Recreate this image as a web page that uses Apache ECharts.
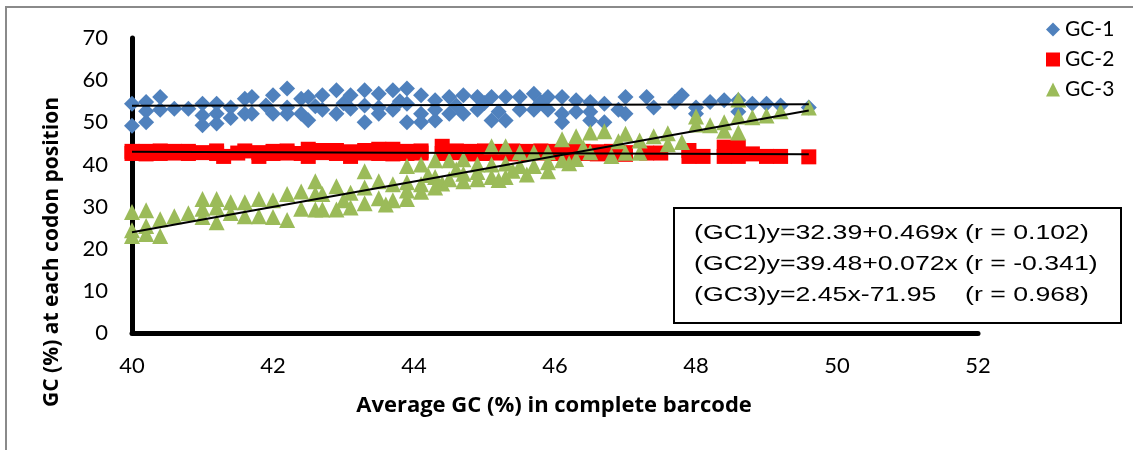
<!DOCTYPE html>
<html>
<head>
<meta charset="utf-8">
<script src="https://cdn.jsdelivr.net/npm/echarts@6/dist/echarts.min.js"></script>
<style>
html,body{margin:0;padding:0;background:#fff;}
#chart{width:1133px;height:450px;}
</style>
</head>
<body>
<div id="chart"></div>
<script>
// ---- data ----
const xTicks = [40, 42, 44, 46, 48, 50, 52];
const yTicks = [0, 10, 20, 30, 40, 50, 60, 70];
const seriesNames = ['GC-1', 'GC-2', 'GC-3'];

const gc1 = [
[40.0,54.4],[40.0,49.2],[40.2,54.8],[40.2,50.0],[40.2,52.6],[40.4,56.0],[40.4,53.0],[40.6,53.2],[40.8,53.2],
[41.0,54.4],[41.0,51.6],[41.0,49.3],[41.2,54.4],[41.2,52.0],[41.2,49.7],[41.4,53.5],[41.4,51.0],
[41.6,55.6],[41.6,52.0],[41.7,56.0],[41.7,52.0],[41.9,54.0],[42.0,56.4],[42.0,52.0],[42.2,58.0],[42.2,53.5],
[42.2,52.0],[42.4,55.6],[42.4,52.0],[42.5,56.0],[42.5,50.5],[42.6,53.8],[42.7,56.4],[42.7,53.0],[42.9,57.6],
[42.9,52.0],[43.0,54.5],[43.1,56.4],[43.1,53.2],[43.3,57.6],[43.3,50.0],[43.3,54.0],[43.5,56.8],[43.5,52.0],[43.5,53.5],
[43.7,57.6],[43.7,53.0],[43.8,55.0],[43.9,58.0],[43.9,54.4],[43.9,50.0],[44.1,56.4],[44.1,52.0],[44.1,50.0],
[44.3,55.2],[44.3,50.4],[44.3,53.0],[44.5,56.0],[44.5,52.0],[44.6,54.0],[44.7,56.4],[44.7,52.0],[44.9,56.0],[44.9,53.0],
[45.0,54.6],[45.1,56.0],[45.1,50.4],[45.2,52.5],[45.3,56.0],[45.3,50.4],[45.5,56.0],[45.5,53.0],[45.7,56.8],[45.7,53.0],
[45.8,54.8],[45.9,56.0],[45.9,53.0],[46.1,56.0],[46.1,52.0],[46.1,50.0],[46.3,55.2],[46.3,52.5],[46.5,54.8],
[46.5,50.4],[46.5,52.5],[46.7,54.4],[46.7,50.0],[46.9,53.0],[47.0,56.0],[47.0,52.0],[47.3,56.0],[47.4,53.5],
[47.7,54.8],[47.8,56.4],[48.0,53.5],[48.0,52.0],[48.2,54.8],[48.4,55.2],[48.6,55.2],[48.6,52.5],
[48.8,54.4],[49.0,54.4],[49.2,54.0],[49.6,53.5]
];

const gc2 = [
[40.0,42.6],[40.0,43.1],[40.2,42.5],[40.2,43.1],[40.4,42.6],[40.4,43.2],[40.6,42.7],[40.6,43.1],
[40.8,42.6],[40.8,43.1],[41.0,42.8],[41.2,42.6],[41.2,43.2],[41.3,41.9],[41.5,42.7],[41.6,43.2],
[41.8,41.9],[41.8,42.8],[42.0,42.6],[42.0,43.1],[42.2,42.7],[42.2,43.2],[42.4,42.6],[42.5,43.6],
[42.5,41.9],[42.7,42.8],[42.7,43.3],[42.9,42.6],[42.9,43.3],[43.1,41.9],[43.1,43.0],[43.3,42.7],
[43.3,43.3],[43.5,43.6],[43.5,42.6],[43.7,43.6],[43.7,42.5],[43.9,42.6],[43.9,43.1],[44.1,42.7],
[44.1,43.2],[44.4,44.3],[44.4,42.6],[44.6,42.8],[44.6,43.2],[44.8,42.5],[44.8,43.1],[45.0,42.6],
[45.0,43.2],[45.2,42.7],[45.2,43.1],[45.4,42.5],[45.4,43.2],[45.6,42.6],[45.6,43.1],[45.8,42.7],
[45.8,43.2],[46.0,42.6],[46.0,43.1],[46.2,42.5],[46.2,43.2],[46.4,42.6],[46.4,43.1],[46.6,42.5],
[46.6,43.0],[46.8,42.6],[46.8,43.1],[47.0,42.8],[47.0,42.4],[47.3,42.7],[47.5,42.7],[47.9,43.3],
[47.9,41.9],[48.1,41.9],[48.4,44.1],[48.4,41.9],[48.6,44.1],[48.6,41.9],[48.8,42.5],[49.0,41.9],
[49.2,41.9],[49.6,41.8]
];

const gc3 = [
[40.0,28.7],[40.0,24.4],[40.0,23.0],[40.2,29.1],[40.2,25.4],[40.2,23.5],[40.4,27.0],[40.4,23.0],
[40.6,27.7],[40.8,28.4],[41.0,31.8],[41.0,29.5],[41.0,27.5],[41.2,31.8],[41.2,29.8],[41.2,26.3],
[41.4,31.0],[41.4,28.5],[41.6,31.0],[41.6,27.7],[41.8,31.8],[41.8,27.7],[42.0,31.5],[42.0,27.5],
[42.2,33.0],[42.2,26.8],[42.4,33.6],[42.4,29.5],[42.6,36.0],[42.6,33.0],[42.6,29.3],[42.7,33.0],
[42.7,29.3],[42.9,34.8],[42.9,29.3],[43.0,31.5],[43.1,33.3],[43.1,29.8],[43.3,38.4],[43.3,34.5],[43.3,30.8],
[43.5,36.0],[43.5,32.0],[43.6,30.5],[43.7,35.3],[43.7,31.5],[43.9,39.6],[43.9,35.8],[43.9,31.8],[43.9,33.8],[44.1,40.0],
[44.1,35.3],[44.1,33.5],[44.2,37.5],[44.3,41.0],[44.3,37.0],[44.3,34.5],[44.4,35.5],[44.5,41.0],[44.5,36.5],[44.6,38.8],
[44.7,41.2],[44.7,37.8],[44.7,36.0],[44.9,40.0],[44.9,36.5],[44.9,38.2],[45.1,44.3],[45.1,40.0],[45.1,37.0],
[45.2,36.3],[45.3,44.3],[45.3,40.2],[45.3,37.0],[45.4,38.5],[45.5,42.9],[45.5,39.6],[45.6,37.6],[45.7,42.9],[45.7,39.6],
[45.9,42.9],[45.9,40.5],[45.9,38.4],[46.1,46.0],[46.1,41.0],[46.2,40.3],[46.3,46.7],[46.3,41.3],[46.4,44.0],
[46.5,47.6],[46.5,42.9],[46.7,47.9],[46.8,42.0],[46.9,45.5],[47.0,47.3],[47.0,42.8],[47.2,45.7],
[47.2,42.8],[47.4,46.7],[47.6,47.4],[47.6,44.8],[47.8,45.3],[48.0,51.4],[48.0,49.5],[48.2,49.3],
[48.4,50.0],[48.4,48.0],[48.6,55.4],[48.6,51.4],[48.6,47.6],[48.8,51.2],[49.0,51.6],[49.2,52.6],
[49.6,53.5]
];

// trend lines drawn in the reference (end points)
const trend1 = [[40, 53.9], [49.6, 54.3]];
const trend2 = [[40, 43.0], [49.6, 42.4]];
const trend3 = [[40, 23.9], [49.6, 52.8]];

const eqLeft = ['(GC1)y=32.39+0.469x', '(GC2)y=39.48+0.072x', '(GC3)y=2.45x-71.95'];
const eqRight = ['(r = 0.102)', '(r = -0.341)', '(r = 0.968)'];

const xTitle = 'Average GC (%) in complete barcode';
const yTitle = 'GC (%) at each codon position';

// ---- chart ----
const chart = echarts.init(document.getElementById('chart'), null, {renderer: 'canvas'});
const FONT = 'Lato';
const TFONT = 'Open Sans';
const EQFONT = 'Liberation Sans';
const eqScale = 1.27;

const graphics = [
  {type: 'rect', z: -10, silent: true,
   shape: {x: 6, y: 7, width: 1140, height: 470},
   style: {fill: null, stroke: '#8a8a8a', lineWidth: 2}},
  {type: 'text', x: 554, y: 406, silent: true,
   style: {text: xTitle, fontFamily: TFONT, fontWeight: 'bold', fontSize: 22, fill: '#000', align: 'center', verticalAlign: 'middle'}},
  {type: 'text', x: 52, y: 252, rotation: Math.PI / 2, silent: true,
   style: {text: yTitle, fontFamily: TFONT, fontWeight: 'bold', fontSize: 21, fill: '#000', align: 'center', verticalAlign: 'middle'}},
  {type: 'rect', z: 10, silent: true,
   shape: {x: 674, y: 208, width: 447, height: 115},
   style: {fill: '#fff', stroke: '#000', lineWidth: 2}}
];
const lineY = [233, 264, 295];
for (let i = 0; i < 3; i++) {
  graphics.push({type: 'text', z: 11, x: 694, y: lineY[i], scaleX: eqScale, silent: true,
    style: {text: eqLeft[i], fontFamily: EQFONT, fontSize: 21, fill: '#000', align: 'left', verticalAlign: 'middle'}});
  graphics.push({type: 'text', z: 11, x: 965, y: lineY[i], scaleX: eqScale, silent: true,
    style: {text: eqRight[i], fontFamily: EQFONT, fontSize: 21, fill: '#000', align: 'left', verticalAlign: 'middle'}});
}

const option = {
  animation: false,
  backgroundColor: '#fff',
  grid: {left: 132, right: 155, top: 38, bottom: 117, containLabel: false},
  legend: {
    orient: 'vertical', left: 1041, top: 14,
    itemWidth: 14, itemHeight: 14, itemGap: 9,
    textStyle: {fontFamily: FONT, fontSize: 21, color: '#000'},
    data: [
      {name: seriesNames[0], icon: 'diamond'},
      {name: seriesNames[1], icon: 'rect'},
      {name: seriesNames[2], icon: 'triangle'}
    ]
  },
  xAxis: {
    type: 'value', min: xTicks[0], max: xTicks[xTicks.length - 1], interval: 2,
    axisLine: {show: true, onZero: false, lineStyle: {color: '#000', width: 5}},
    axisTick: {show: false},
    splitLine: {show: false},
    axisLabel: {margin: 22, fontFamily: FONT, fontSize: 22, color: '#000'}
  },
  yAxis: {
    type: 'value', min: yTicks[0], max: yTicks[yTicks.length - 1], interval: 10,
    axisLine: {show: true, lineStyle: {color: '#000', width: 5}},
    axisTick: {show: false},
    splitLine: {show: false},
    axisLabel: {margin: 24, fontFamily: FONT, fontSize: 22, color: '#000'}
  },
  series: [
    {name: seriesNames[0], type: 'scatter', symbol: 'diamond', symbolSize: 16, data: gc1,
     itemStyle: {color: '#4F81BD', opacity: 1}, z: 2},
    {name: seriesNames[1], type: 'scatter', symbol: 'rect', symbolSize: 15, data: gc2,
     itemStyle: {color: '#FF0000', opacity: 1}, z: 3},
    {name: seriesNames[2], type: 'scatter', symbol: 'triangle', symbolSize: 16, data: gc3,
     itemStyle: {color: '#9BBB59', opacity: 1}, z: 4},
    {type: 'line', data: trend1, symbol: 'none', lineStyle: {color: '#000', width: 2}, z: 5, silent: true},
    {type: 'line', data: trend2, symbol: 'none', lineStyle: {color: '#000', width: 2}, z: 5, silent: true},
    {type: 'line', data: trend3, symbol: 'none', lineStyle: {color: '#000', width: 2}, z: 5, silent: true}
  ],
  graphic: graphics
};
chart.setOption(option);
</script>
</body>
</html>
